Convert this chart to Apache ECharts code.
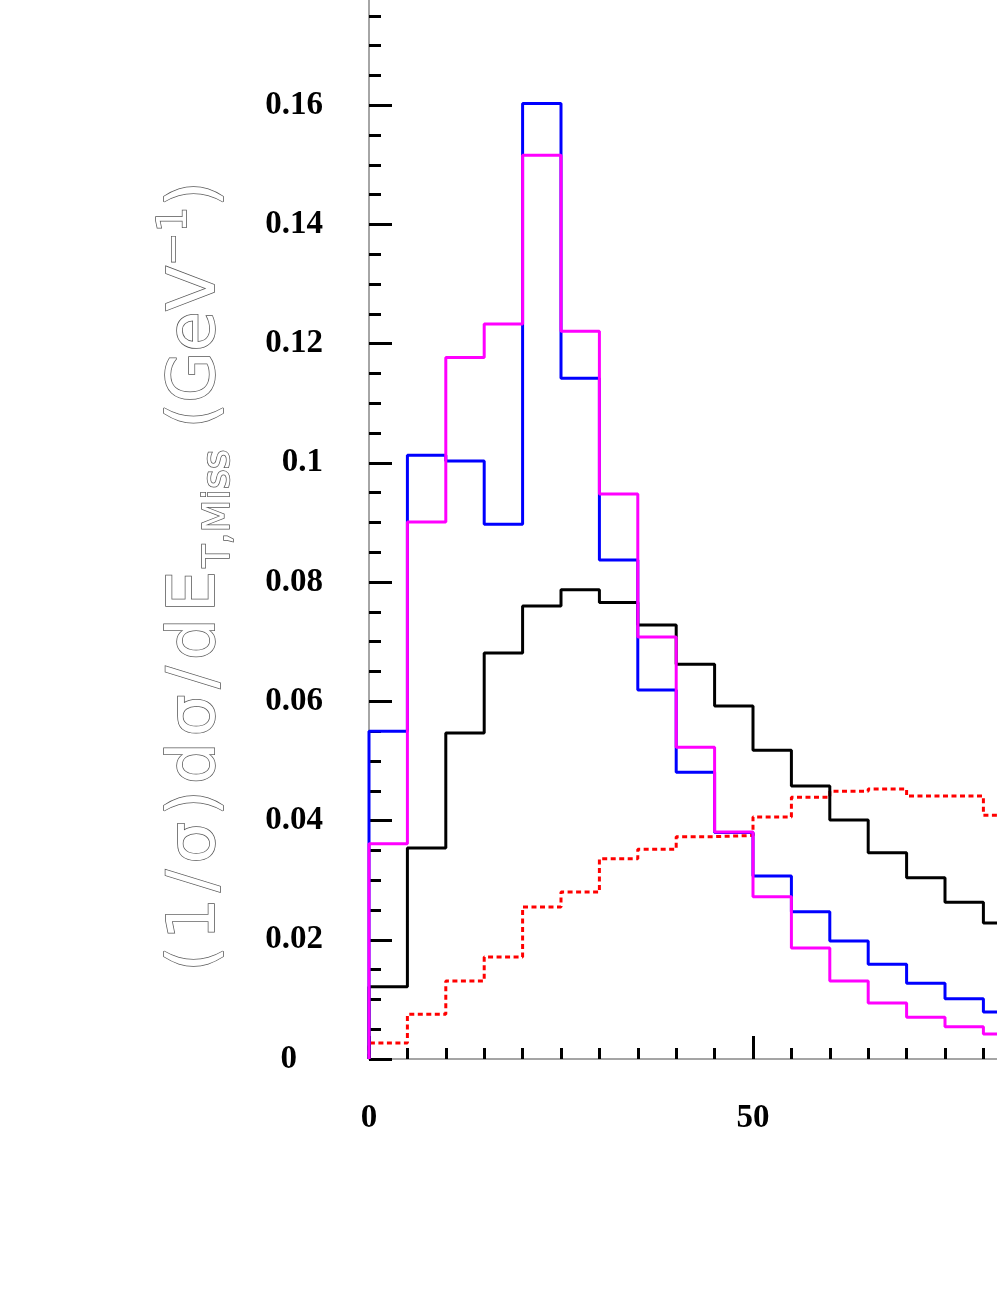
<!DOCTYPE html>
<html>
<head>
<meta charset="utf-8">
<script src="https://cdn.jsdelivr.net/npm/echarts@6/dist/echarts.min.js"></script>
<style>
  html, body { margin: 0; padding: 0; background: #fff; }
  #chart { width: 997px; height: 1290px; }
</style>
</head>
<body>
<div id="chart"></div>
<script>
// bin left edges (GeV), bin width 5
const binStart = [0, 5, 10, 15, 20, 25, 30, 35, 40, 45, 50, 55, 60, 65, 70, 75, 80]
const binWidth = 5

const blackVals = [0.0121, 0.0354, 0.0547, 0.0681, 0.0760, 0.0787, 0.0766, 0.0728, 0.0662, 0.0592, 0.0518, 0.0458, 0.0401, 0.0346, 0.0304, 0.0263, 0.0228]
const blueVals = [0.0550, 0.1013, 0.1003, 0.0897, 0.1603, 0.1142, 0.0837, 0.0619, 0.0481, 0.0380, 0.0307, 0.0247, 0.0198, 0.0159, 0.0127, 0.0101, 0.0079]
const magentaVals = [0.0361, 0.0901, 0.1177, 0.1233, 0.1516, 0.1221, 0.0948, 0.0708, 0.0523, 0.0381, 0.0272, 0.0186, 0.0131, 0.0094, 0.0070, 0.0054, 0.0042]
const redVals = [0.0027, 0.0075, 0.0131, 0.0171, 0.0255, 0.0280, 0.0336, 0.0352, 0.0373, 0.0375, 0.0406, 0.0439, 0.0449, 0.0453, 0.0441, 0.0441, 0.0409]

// turn bin values into step points: start at 0 on the first edge
function histPoints (vals) {
  const pts = [[binStart[0], 0]]
  vals.forEach((v, i) => {
    pts.push([binStart[i], v])
  })
  pts.push([binStart[binStart.length - 1] + binWidth, vals[vals.length - 1]])
  return pts
}

function histSeries (name, vals, color, lineType, width) {
  return {
    name: name,
    type: 'line',
    step: 'end',
    showSymbol: false,
    symbol: 'none',
    lineStyle: { color: color, width: width, type: lineType },
    data: histPoints(vals)
  }
}

const labelFont = {
  fontFamily: 'Liberation Serif',
  fontWeight: 'bold',
  fontSize: 33,
  color: '#000'
}

// outlined axis title
const titleStyle = { fontFamily: 'DejaVu Sans', fill: '#fff', stroke: '#555', lineWidth: 1.5 }
const spaced = '(1/σ)dσ/dE'.split('').map(c => '{w|' + c + '}').join('')

const chart = echarts.init(document.getElementById('chart'))
chart.setOption({
  animation: false,
  backgroundColor: '#fff',
  grid: {
    left: 369,
    right: -140,
    top: -14,
    bottom: 231,
    outerBoundsMode: 'none',
    containLabel: false
  },
  xAxis: {
    type: 'value',
    min: 0,
    max: 100,
    interval: 50,
    axisLine: { lineStyle: { color: '#888', width: 1.5 } },
    axisTick: { inside: true, length: 23, lineStyle: { color: '#000', width: 3 } },
    minorTick: { show: true, splitNumber: 10, length: 11, lineStyle: { color: '#000', width: 3 } },
    splitLine: { show: false },
    axisLabel: Object.assign({ margin: 43 }, labelFont)
  },
  yAxis: {
    type: 'value',
    min: 0,
    max: 0.18,
    interval: 0.02,
    axisLine: { lineStyle: { color: '#888', width: 1.5 } },
    axisTick: { inside: true, length: 23, lineStyle: { color: '#000', width: 3 } },
    minorTick: { show: true, splitNumber: 4, length: 12, lineStyle: { color: '#000', width: 3 } },
    splitLine: { show: false },
    axisLabel: Object.assign({
      margin: 46,
      showMaxLabel: false,
      formatter: function (value) {
        return value === 0 ? '{z|0}' : String(+value.toFixed(2))
      },
      rich: {
        z: { fontFamily: 'Liberation Serif', fontWeight: 'bold', fontSize: 33, color: '#000', padding: [0, 26, 0, 0] }
      }
    }, labelFont)
  },
  graphic: [{
    type: 'text',
    x: 197,
    y: 578,
    rotation: Math.PI / 2,
    style: Object.assign({
      text: spaced + '{s|T,Miss}{a| (GeV}{p|−1}{a|)}',
      fontSize: 66,
      align: 'center',
      verticalAlign: 'middle',
      rich: {
        w: Object.assign({ fontSize: 66, lineHeight: 82, padding: [0, 3, 0, 3] }, titleStyle),
        a: Object.assign({ fontSize: 66, lineHeight: 82 }, titleStyle),
        s: Object.assign({ fontSize: 38, verticalAlign: 'bottom' }, titleStyle),
        p: Object.assign({ fontSize: 40, verticalAlign: 'top' }, titleStyle)
      }
    }, titleStyle)
  }],
  series: [
    histSeries('red', redVals, '#ff0000', [5, 3.5], 3),
    histSeries('black', blackVals, '#000000', 'solid', 3),
    histSeries('blue', blueVals, '#0000ff', 'solid', 3),
    histSeries('magenta', magentaVals, '#ff00ff', 'solid', 3)
  ]
})
</script>
</body>
</html>
